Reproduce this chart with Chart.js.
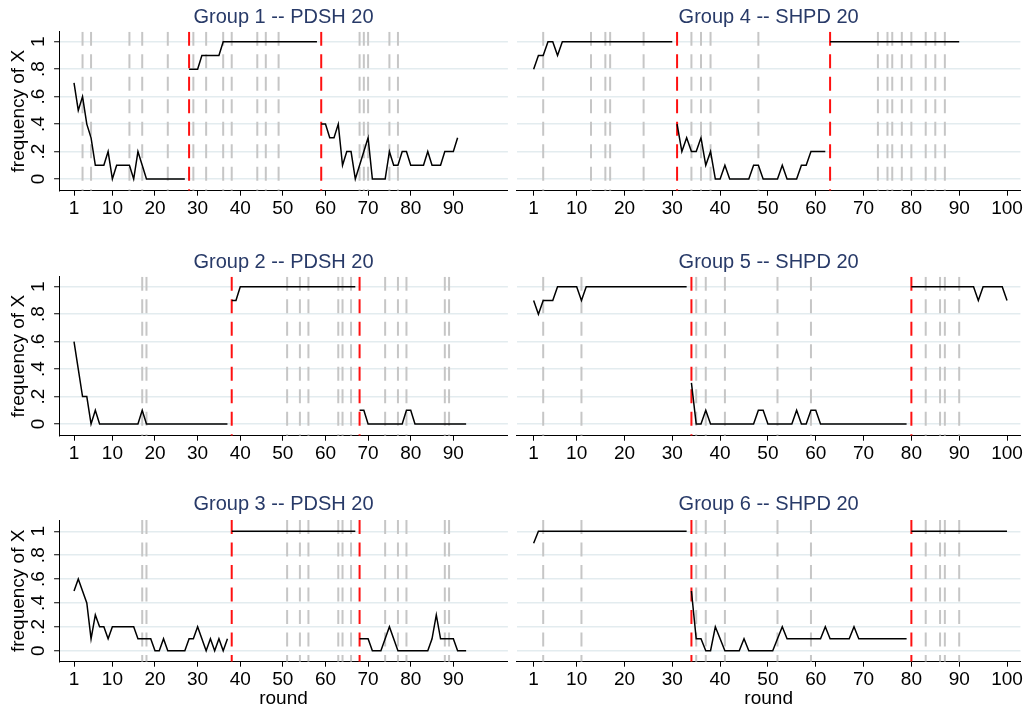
<!DOCTYPE html>
<html>
<head>
<meta charset="utf-8">
<script src="https://cdn.jsdelivr.net/npm/chart.js@4.4.0/dist/chart.umd.min.js"></script>
<style>
html,body{margin:0;padding:0;background:#fff;width:1026px;height:710px;overflow:hidden}
.cell{position:absolute}
canvas{display:block}
</style>
</head>
<body>
<div class="cell" style="left:0px;top:0px"><canvas id="p1" width="512" height="245"></canvas></div>
<div class="cell" style="left:512px;top:0px"><canvas id="p4" width="514" height="245"></canvas></div>
<div class="cell" style="left:0px;top:245px"><canvas id="p2" width="512" height="245"></canvas></div>
<div class="cell" style="left:512px;top:245px"><canvas id="p5" width="514" height="245"></canvas></div>
<div class="cell" style="left:0px;top:490px"><canvas id="p3" width="512" height="220"></canvas></div>
<div class="cell" style="left:512px;top:490px"><canvas id="p6" width="514" height="220"></canvas></div>
<script>
// ---------------- DATA ----------------
const panelTitles = ["Group 1 -- PDSH 20", "Group 2 -- PDSH 20", "Group 3 -- PDSH 20",
                     "Group 4 -- SHPD 20", "Group 5 -- SHPD 20", "Group 6 -- SHPD 20"];
const yAxisTitle = "frequency of X";
const xAxisTitle = "round";
const xTicksLeft = [1, 10, 20, 30, 40, 50, 60, 70, 80, 90];
const xTicksRight = [1, 10, 20, 30, 40, 50, 60, 70, 80, 90, 100];
const yTickValues = [0, 0.2, 0.4, 0.6, 0.8, 1];
const yTickLabels = ["0", ".2", ".4", ".6", ".8", "1"];

// Group 1
const g1Starts = [1, 28, 59];
const g1Phase1 = [0.7,0.5,0.6,0.4,0.3,0.1,0.1,0.1,0.2,0,0.1,0.1,0.1,0.1,0,0.2,0.1,0,0,0,0,0,0,0,0,0,0];
const g1Phase2 = [0.8,0.8,0.8,0.9,0.9,0.9,0.9,0.9,1,1,1,1,1,1,1,1,1,1,1,1,1,1,1,1,1,1,1,1,1,1,1];
const g1Phase3 = [0.4,0.4,0.3,0.3,0.4,0.1,0.2,0.2,0,0.1,0.2,0.3,0,0,0,0,0.2,0.1,0.1,0.2,0.2,0.1,0.1,0.1,0.1,0.2,0.1,0.1,0.1,0.2,0.2,0.2,0.3];
const g1Gray = [3,5,14,17,23,29,32,36,38,44,46,49,68,69,70,75,77];
const g1Red = [28, 59];

// Group 2
const g2Starts = [1, 38, 68];
const g2Phase1 = [0.6,0.4,0.2,0.2,0,0.1,0,0,0,0,0,0,0,0,0,0,0.1,0,0,0,0,0,0,0,0,0,0,0,0,0,0,0,0,0,0,0,0];
const g2Phase2 = [0.9,0.9,1,1,1,1,1,1,1,1,1,1,1,1,1,1,1,1,1,1,1,1,1,1,1,1,1,1,1,1];
const g2Phase3 = [0.1,0.1,0,0,0,0,0,0,0,0,0,0.1,0.1,0,0,0,0,0,0,0,0,0,0,0,0,0];
const g2Gray = [17,18,51,54,56,63,64,66,74,77,79,88,89];
const g2Red = [38, 68];

// Group 3
const g3Starts = [1, 38, 68];
const g3Phase1 = [0.5,0.6,0.5,0.4,0.1,0.3,0.2,0.2,0.1,0.2,0.2,0.2,0.2,0.2,0.2,0.1,0.1,0.1,0.1,0,0,0.1,0,0,0,0,0,0.1,0.1,0.2,0.1,0,0.1,0,0.1,0,0.1];
const g3Phase2 = [1,1,1,1,1,1,1,1,1,1,1,1,1,1,1,1,1,1,1,1,1,1,1,1,1,1,1,1,1,1];
const g3Phase3 = [0.1,0.1,0.1,0,0,0,0.1,0.2,0.1,0,0,0,0,0,0,0,0,0.1,0.3,0.1,0.1,0.1,0.1,0,0,0];
const g3Gray = [17,18,51,54,56,63,64,66,74,77,79,88,89];
const g3Red = [38, 68];

// Group 4
const g4Starts = [1, 31, 63];
const g4Phase1 = [0.8,0.9,0.9,1,1,0.9,1,1,1,1,1,1,1,1,1,1,1,1,1,1,1,1,1,1,1,1,1,1,1,1];
const g4Phase2 = [0.4,0.2,0.3,0.2,0.2,0.3,0.1,0.2,0,0,0.1,0,0,0,0,0,0.1,0.1,0,0,0,0,0.1,0,0,0,0.1,0.1,0.2,0.2,0.2,0.2];
const g4Phase3 = [1,1,1,1,1,1,1,1,1,1,1,1,1,1,1,1,1,1,1,1,1,1,1,1,1,1,1,1];
const g4Gray = [3,13,16,17,24,34,36,38,48,73,75,76,78,80,83,85,87];
const g4Red = [31, 63];

// Group 5
const g5Starts = [1, 34, 80];
const g5Phase1 = [0.9,0.8,0.9,0.9,0.9,1,1,1,1,1,0.9,1,1,1,1,1,1,1,1,1,1,1,1,1,1,1,1,1,1,1,1,1,1];
const g5Phase2 = [0.3,0,0,0.1,0,0,0,0,0,0,0,0,0,0,0.1,0.1,0,0,0,0,0,0,0.1,0,0,0.1,0.1,0,0,0,0,0,0,0,0,0,0,0,0,0,0,0,0,0,0,0];
const g5Phase3 = [1,1,1,1,1,1,1,1,1,1,1,1,1,1,0.9,1,1,1,1,1,0.9];
const g5Gray = [3,11,35,37,41,52,59,83,86,87,90];
const g5Red = [34, 80];

// Group 6
const g6Starts = [1, 34, 80];
const g6Phase1 = [0.9,1,1,1,1,1,1,1,1,1,1,1,1,1,1,1,1,1,1,1,1,1,1,1,1,1,1,1,1,1,1,1,1];
const g6Phase2 = [0.5,0.1,0.1,0,0,0.2,0.1,0,0,0,0,0.1,0,0,0,0,0,0,0.1,0.2,0.1,0.1,0.1,0.1,0.1,0.1,0.1,0.1,0.2,0.1,0.1,0.1,0.1,0.1,0.2,0.1,0.1,0.1,0.1,0.1,0.1,0.1,0.1,0.1,0.1,0.1];
const g6Phase3 = [1,1,1,1,1,1,1,1,1,1,1,1,1,1,1,1,1,1,1,1,1];
const g6Gray = [3,11,35,37,41,52,59,83,86,87,90];
const g6Red = [34, 80];

// ---------------- STYLE / LAYOUT ----------------
const FONT = '"Liberation Sans", Arial, Helvetica, sans-serif';
const FS = 19;
const TITLE_FS = 20;
const X_MIN = -2.5, X_MAX = 102.8;
const COLS = {
  left:  {canvasLeft: 0,   canvasW: 512, chartLeft: 59.1,  chartRight: 507.9},
  right: {canvasLeft: 512, canvasW: 514, chartLeft: 516.9, chartRight: 1020.4}
};
const ROWS = [
  {top: 0,   h: 245, chartTop: 31.7,  chartBottom: 190.7, titleCenter: 17,  yMin: -0.085, yMax: 1.073},
  {top: 245, h: 245, chartTop: 276.7, chartBottom: 435.7, titleCenter: 262, yMin: -0.085, yMax: 1.073},
  {top: 490, h: 220, chartTop: 520,   chartBottom: 661.7, titleCenter: 504.5, yMin: -0.092, yMax: 1.095}
];

Chart.defaults.font.family = FONT;

function buildPanel(id, title, starts, phases, grayRounds, redRounds, side, rowIdx) {
  const col = COLS[side];
  const row = ROWS[rowIdx];
  const isLeft = side === 'left';
  const isBottom = rowIdx === 2;
  const lh = TITLE_FS * 1.2;
  const titlePadTop = (row.titleCenter - row.top) - lh / 2;
  const titlePadBottom = (row.chartTop - row.top) - titlePadTop - lh;
  const xAxisH = (row.top + row.h) - row.chartBottom;

  const datasets = [];
  phases.forEach((vals, k) => {
    datasets.push({
      data: vals.map((v, i) => ({x: starts[k] + i, y: v})),
      borderColor: '#000000', borderWidth: 1.5, pointRadius: 0,
      tension: 0, fill: false, order: 0
    });
  });
  redRounds.forEach(r => {
    datasets.push({
      data: [{x: r, y: row.yMax}, {x: r, y: row.yMin}],
      borderColor: '#ff1010', borderWidth: 2, borderDash: [14, 8.5],
      pointRadius: 0, fill: false, order: 1
    });
  });
  grayRounds.forEach(r => {
    datasets.push({
      data: [{x: r, y: row.yMax}, {x: r, y: row.yMin}],
      borderColor: '#c6c6c6', borderWidth: 2, borderDash: [14, 8.5],
      pointRadius: 0, fill: false, order: 2
    });
  });

  const xt = isLeft ? xTicksLeft : xTicksRight;

  new Chart(document.getElementById(id), {
    type: 'line',
    data: {datasets},
    options: {
      responsive: false, animation: false, devicePixelRatio: 1,
      events: [],
      layout: {padding: {
        left: isLeft ? 0 : (col.chartLeft - col.canvasLeft),
        right: (col.canvasLeft + col.canvasW) - col.chartRight,
        top: 0, bottom: 0}},
      plugins: {
        legend: {display: false},
        tooltip: {enabled: false},
        title: {
          display: true, text: title, fullSize: false, color: '#283a68',
          font: {family: FONT, size: TITLE_FS, weight: 'normal', lineHeight: 1.2},
          padding: {top: titlePadTop, bottom: titlePadBottom}
        }
      },
      scales: {
        x: {
          type: 'linear', min: X_MIN, max: X_MAX,
          afterBuildTicks: s => { s.ticks = xt.map(v => ({value: v})); },
          afterFit: s => { s.height = xAxisH; },
          ticks: {
            autoSkip: false, maxRotation: 0, minRotation: 0, padding: 1.6,
            color: '#000', font: {family: FONT, size: FS},
            callback: v => String(v)
          },
          grid: {drawOnChartArea: false, drawTicks: true, tickLength: 5, tickColor: '#000', tickWidth: 1},
          border: {display: true, color: '#000', width: 1},
          title: {
            display: isBottom, text: xAxisTitle, color: '#000',
            font: {family: FONT, size: FS, lineHeight: 1.2},
            padding: {top: 0, bottom: 0.2}
          }
        },
        y: {
          type: 'linear', min: row.yMin, max: row.yMax,
          afterBuildTicks: s => { s.ticks = yTickValues.map(v => ({value: v})); },
          afterFit: s => { s.width = isLeft ? (col.chartLeft - col.canvasLeft) : 0; },
          ticks: {
            display: isLeft, minRotation: 90, maxRotation: 90, crossAlign: 'center',
            padding: 7, color: '#000', font: {family: FONT, size: FS},
            callback: v => yTickLabels[yTickValues.indexOf(v)]
          },
          grid: {drawOnChartArea: true, color: '#e3ecef', lineWidth: 1.5,
                 drawTicks: isLeft, tickLength: 5, tickColor: '#000', tickWidth: 1},
          border: {display: isLeft, color: '#000', width: 1},
          title: {
            display: isLeft, text: yAxisTitle, color: '#000',
            font: {family: FONT, size: FS, lineHeight: 1.2},
            padding: {top: 7.6, bottom: 0}
          }
        }
      }
    }
  });
}

buildPanel('p1', panelTitles[0], g1Starts, [g1Phase1, g1Phase2, g1Phase3], g1Gray, g1Red, 'left', 0);
buildPanel('p2', panelTitles[1], g2Starts, [g2Phase1, g2Phase2, g2Phase3], g2Gray, g2Red, 'left', 1);
buildPanel('p3', panelTitles[2], g3Starts, [g3Phase1, g3Phase2, g3Phase3], g3Gray, g3Red, 'left', 2);
buildPanel('p4', panelTitles[3], g4Starts, [g4Phase1, g4Phase2, g4Phase3], g4Gray, g4Red, 'right', 0);
buildPanel('p5', panelTitles[4], g5Starts, [g5Phase1, g5Phase2, g5Phase3], g5Gray, g5Red, 'right', 1);
buildPanel('p6', panelTitles[5], g6Starts, [g6Phase1, g6Phase2, g6Phase3], g6Gray, g6Red, 'right', 2);
</script>
</body>
</html>
